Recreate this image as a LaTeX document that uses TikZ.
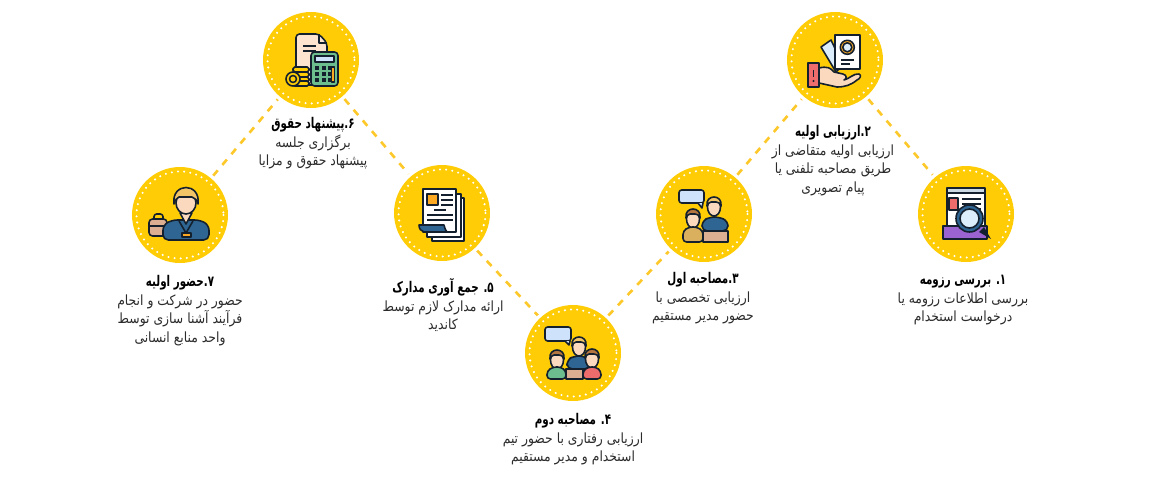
\documentclass[tikz,border=0pt]{standalone}
\usepackage{fontspec}
\newfontfamily\farsi[Script=Arabic,FakeStretch=0.88,BoldFeatures={FakeStretch=0.7}]{DejaVu Sans}
\TeXXeTstate=1
\definecolor{stepYellow}{HTML}{FFCC05}
\definecolor{linkYellow}{HTML}{FDC82A}
\definecolor{iconDark}{HTML}{14202E}
\definecolor{iconBlue}{HTML}{2F6593}
\definecolor{iconSky}{HTML}{DCEEFB}
\definecolor{iconBubble}{HTML}{CFE2FB}
\definecolor{iconRed}{HTML}{EE6C6C}
\definecolor{iconPeach}{HTML}{FBD9BE}
\definecolor{iconTan}{HTML}{DDAF92}
\definecolor{iconHair}{HTML}{F2C468}
\definecolor{iconBrown}{HTML}{B5763F}
\definecolor{iconPurple}{HTML}{9A63CF}
\definecolor{iconGreen}{HTML}{6DBE8F}
\definecolor{iconOrange}{HTML}{FBA922}
\definecolor{textGrey}{HTML}{2B2B2B}
\newcommand{\fa}[1]{\beginR #1\endR}
%% A yellow disc with its ring of white dots.
\newcommand{\stepDisc}[3]{%%
  \node[discStyle] (#1) at (#2,#3) {};
  \draw[ringStyle] (#2,#3) circle (43.5);
}
%% A person: head at (#1,#2), hair colour #3.
\newcommand{\iconHead}[3]{%%
  \draw[iconStyle,fill=iconPeach] (#1,#2) ellipse (6.5 and 9);
  \draw[iconStyle,fill=#3] (#1-7,#2-1) .. controls (#1-9,#2-13) and (#1+9,#2-13) .. (#1+7,#2-1) .. controls (#1+6,#2-4) and (#1+4,#2-5) .. (#1+2,#2-5) -- (#1-3,#2-5) .. controls (#1-5,#2-5) and (#1-6,#2-3) .. cycle;
}
\newcommand{\iconFile}{%%
  \draw[iconStyle,fill=iconBlue!25!white] (-19,-26) rectangle (19,10);
  \draw[iconStyle,fill=white] (-19,-21) rectangle (19,13);
  \draw[iconStyle,fill=iconRed] (-17,-16) rectangle (-8,-4);
  \foreach \y in {-15,-10,-5} {\draw[iconStyle] (-4,\y) -- (15,\y);}
  \draw[iconStyle,fill=iconPurple] (-23,12) rectangle (21,25);
  \fill[iconDark] (13,18) -- (18,13) -- (25,25) -- cycle;
  \draw[iconStyle,fill=iconBlue] (3.5,4.5) circle (13.5);
  \draw[iconStyle,fill=iconSky] (3.5,4.5) circle (9.5);
}
\newcommand{\iconHand}{%%
  \draw[iconStyle,fill=iconSky] (-14,-13) -- (-4,-20) -- (8,5) -- (1,12) -- cycle;
  \draw[iconStyle,fill=white] (0,-25) rectangle (25,9);
  \draw[iconStyle,fill=iconOrange] (12.3,-12.7) circle (7);
  \draw[iconStyle,fill=iconSky] (12.3,-12.7) circle (4.5);
  \draw[iconStyle] (6,0) -- (19,0);
  \draw[iconStyle] (6,4) -- (15,4);
  \draw[iconStyle,fill=iconPeach] (-16,8) .. controls (-8,6) and (-4,8) .. (-1,12) -- (8,14) .. controls (12,15) and (12,19) .. (9,20) .. controls (14,19) and (19,13) .. (24,14) .. controls (27,15) and (25,19) .. (22,20) .. controls (16,25) and (10,27) .. (2,27) -- (-16,23) -- cycle;
  \draw[iconStyle,fill=iconRed] (-27,3) rectangle (-16,27);
  \draw[iconStyle] (-21.5,10) -- (-21.5,17);
  \fill[iconDark] (-21.5,21) circle (1.1);
}
\newcommand{\iconDuo}{%%
  \draw[iconStyle,fill=iconBubble,rounded corners=1.5] (-25,-24) rectangle (0,-11);
  \draw[iconStyle,fill=iconBubble] (-6,-11) -- (-2,-6) -- (-1,-11);
  \iconHead{10}{-7}{iconHair}
  \draw[iconStyle,fill=iconBlue,rounded corners=3] (-2,17) -- (-2,7) -- (6,3) -- (15,3) -- (24,7) -- (24,17) -- cycle;
  \iconHead{-11}{5}{iconBrown}
  \draw[iconStyle,fill=iconHair!90!black,rounded corners=2] (-21,28) -- (-21,17) -- (-15,13) -- (-7,13) -- (-1,17) -- (-1,28) -- cycle;
  \draw[iconStyle,fill=iconTan] (-1,17) rectangle (24,28);
}
\newcommand{\iconTeam}{%%
  \draw[iconStyle,fill=iconBubble,rounded corners=1.5] (-28,-26) rectangle (-2,-12);
  \draw[iconStyle,fill=iconBubble] (-8,-12) -- (-4,-8) -- (-3,-12);
  \iconHead{6}{-6}{iconHair}
  \draw[iconStyle,fill=iconBlue,rounded corners=3] (-6,16) -- (-6,7) -- (1,3) -- (11,3) -- (17,7) -- (17,16) -- cycle;
  \iconHead{-16}{7}{iconBrown}
  \iconHead{19}{6}{iconBrown}
  \draw[iconStyle,fill=iconGreen,rounded corners=2] (-26,26) -- (-26,18) -- (-20,14) -- (-12,14) -- (-7,18) -- (-7,26) -- cycle;
  \draw[iconStyle,fill=iconRed,rounded corners=2] (10,26) -- (10,18) -- (15,14) -- (23,14) -- (28,18) -- (28,26) -- cycle;
  \draw[iconStyle,fill=iconTan] (-7,16) rectangle (10,26);
}
\newcommand{\iconPapers}{%%
  \draw[iconStyle,fill=white] (-10,-15) rectangle (22,28);
  \draw[iconStyle,fill=white] (-15,-19) rectangle (19,24);
  \draw[iconStyle,fill=white] (-19,-24) rectangle (14,19);
  \draw[iconStyle,fill=iconOrange] (-15,-19) rectangle (-4,-8);
  \foreach \y in {-18,-13,-8} {\draw[iconStyle] (-1,\y) -- (11,\y);}
  \draw[iconStyle] (-8,-3) -- (4,-3);
  \draw[iconStyle] (-15,2) -- (11,2);
  \draw[iconStyle] (-15,7) -- (11,7);
  \draw[iconStyle,fill=iconBlue] (-23,12) -- (2,12) .. controls (3,16) and (4,18) .. (5,19) -- (-18,19) .. controls (-21,18) and (-23,16) .. cycle;
}
\newcommand{\iconSalary}{%%
  \draw[iconStyle,fill=iconPeach!70!white,rounded corners=2] (-15,25) -- (-15,-26) -- (8,-26) -- (16,-17) -- (16,25) -- cycle;
  \draw[iconStyle] (8,-26) -- (8,-17) -- (16,-17);
  \foreach \y in {-14,-9} {\draw[iconStyle] (-8,\y) -- (5,\y);}
  \draw[iconStyle,fill=iconGreen,rounded corners=2] (0,-8) rectangle (27,26);
  \draw[iconStyle,fill=iconBubble] (4,-4) rectangle (23,2);
  \foreach \x in {4,10.5,17} {\foreach \y in {6,12,18} {\fill[iconDark] (\x,\y) rectangle (\x+4,\y+4);}}
  \draw[iconStyle,fill=iconOrange] (20.5,7) rectangle (23.5,22);
  \foreach \y in {7,12,17,21} {\draw[iconStyle,fill=stepYellow,rounded corners=1] (-18,\y) rectangle (-2,\y+5);}
  \draw[iconStyle,fill=stepYellow] (-18,19) circle (7);
  \draw[iconStyle] (-18,19) circle (3.5);
}
\newcommand{\iconStaff}{%%
  \draw[iconStyle,fill=iconTan,rounded corners=2] (-31,4) rectangle (-13,21);
  \draw[iconStyle,rounded corners=1.5] (-26,4) -- (-26,-1) -- (-17,-1) -- (-17,4);
  \draw[iconStyle] (-31,11) -- (-13,11);
  \draw[iconStyle,fill=iconBlue,rounded corners=3] (-17,25) -- (-17,10) -- (-8,5) -- (20,5) -- (29,10) -- (29,25) -- cycle;
  \draw[iconStyle,fill=iconPeach] (0,-2) -- (6,9) -- (12,-2) -- cycle;
  \draw[iconStyle,fill=iconPeach] (6,-12) ellipse (10 and 11);
  \draw[iconStyle,fill=iconHair] (-6,-11) .. controls (-9,-33) and (21,-33) .. (18,-11) .. controls (17,-15) and (15,-17) .. (12,-18) -- (-1,-18) .. controls (-3,-17) and (-5,-15) .. cycle;
  \draw[iconStyle] (-1,6) -- (6,18) -- (13,6);
  \draw[iconStyle,fill=iconOrange] (2,18) rectangle (11,22);
}
%% One caption: title line in bold, then the text lines.
\newcommand{\stepText}[5]{%%
  \node[textStyle] (#1) at (#2,#3) {{\bfseries\color{black}\fontsize{8.4}{10.6}\selectfont #4}\\#5};
}
\begin{document}
\begin{tikzpicture}[%%
  x=0.02cm,y=-0.02cm,%%
  discStyle/.style={circle,inner sep=0pt,outer sep=0pt,minimum size=1.92cm,fill=stepYellow},%%
  ringStyle/.style={white,line width=1.3pt,line cap=round,dash pattern=on 0pt off 3.5pt},%%
  linkStyle/.style={linkYellow,line width=1.5pt,dash pattern=on 4pt off 4pt,shorten <=2pt,shorten >=2pt},%%
  iconStyle/.style={draw=iconDark,line width=0.9pt,line join=round},%%
  textStyle/.style={anchor=north,align=center,inner sep=0pt,text=textGrey,font=\farsi\fontsize{8}{10.6}\selectfont}
]
\useasboundingbox (0,0) rectangle (1170,480);
%%
%% The discs.
\stepDisc{stepA}{966}{214}
\stepDisc{stepB}{835}{60}
\stepDisc{stepC}{704}{214}
\stepDisc{stepD}{573}{353}
\stepDisc{stepE}{442}{213}
\stepDisc{stepF}{311}{60}
\stepDisc{stepG}{180}{215}
%%
%% The dashed links.
\draw[linkStyle] (stepG) -- (stepF);
\draw[linkStyle] (stepF) -- (stepE);
\draw[linkStyle] (stepE) -- (stepD);
\draw[linkStyle] (stepD) -- (stepC);
\draw[linkStyle] (stepC) -- (stepB);
\draw[linkStyle] (stepB) -- (stepA);
%%
%% The icons.
\begin{scope}[shift={(stepA.center)}] \iconFile \end{scope}
\begin{scope}[shift={(stepB.center)}] \iconHand \end{scope}
\begin{scope}[shift={(stepC.center)}] \iconDuo \end{scope}
\begin{scope}[shift={(stepD.center)}] \iconTeam \end{scope}
\begin{scope}[shift={(stepE.center)}] \iconPapers \end{scope}
\begin{scope}[shift={(stepF.center)}] \iconSalary \end{scope}
\begin{scope}[shift={(stepG.center)}] \iconStaff \end{scope}
%%
%% The captions.
\stepText{textA}{963}{275}{\fa{۱. بررسی رزومه}}{\fa{بررسی اطلاعات رزومه یا}\\\fa{درخواست استخدام}}
\stepText{textB}{833}{125}{\fa{۲.ارزیابی اولیه}}{\fa{ارزیابی اولیه متقاضی از}\\\fa{طریق مصاحبه تلفنی یا}\\\fa{پیام تصویری}}
\stepText{textC}{703}{272}{\fa{۳.مصاحبه اول}}{\fa{ارزیابی تخصصی با}\\\fa{حضور مدیر مستقیم}}
\stepText{textD}{573}{413}{\fa{۴. مصاحبه دوم}}{\fa{ارزیابی رفتاری با حضور تیم}\\\fa{استخدام و مدیر مستقیم}}
\stepText{textE}{443}{278}{\fa{۵. جمع آوری مدارک}}{\fa{ارائه مدارک لازم توسط}\\\fa{کاندید}}
\stepText{textF}{313}{117}{\fa{۶.پیشنهاد حقوق}}{\fa{برگزاری جلسه}\\\fa{پیشنهاد حقوق و مزایا}}
\stepText{textG}{180}{275}{\fa{۷.حضور اولیه}}{\fa{حضور در شرکت و انجام}\\\fa{فرآیند آشنا سازی توسط}\\\fa{واحد منابع انسانی}}
\end{tikzpicture}
\end{document}
